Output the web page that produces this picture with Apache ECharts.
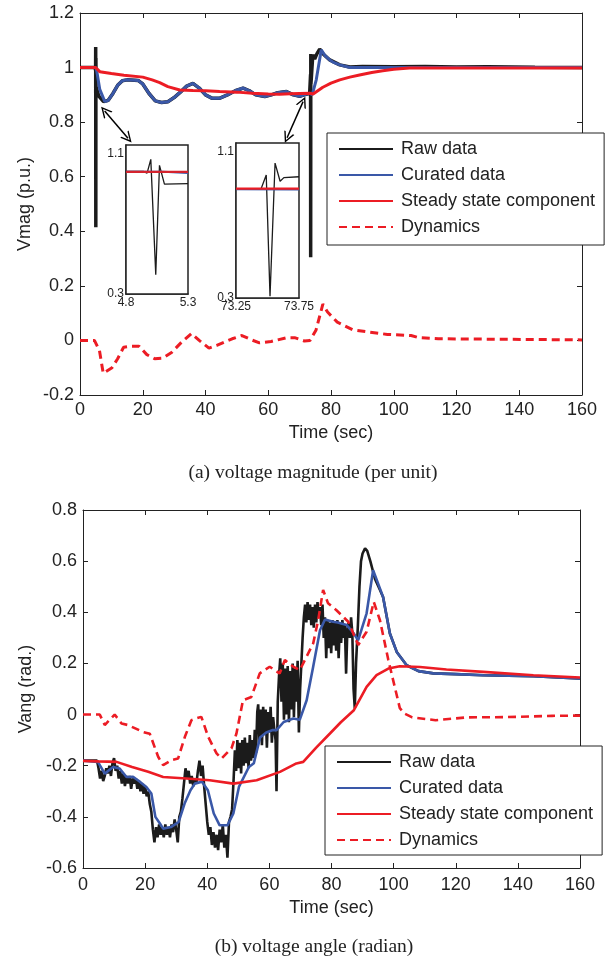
<!DOCTYPE html>
<html>
<head>
<meta charset="utf-8">
<script src="https://cdn.jsdelivr.net/npm/echarts@6/dist/echarts.min.js"></script>
<style>
html,body{margin:0;padding:0;background:#fff;}
#chart{width:609px;height:962px;}
</style>
</head>
<body>
<div id="chart"></div>
<script>
// ---------- DATA ----------
const seriesNames = ['Raw data', 'Curated data', 'Steady state component', 'Dynamics'];
const captionA = '(a) voltage magnitude (per unit)';
const captionB = '(b) voltage angle (radian)';

// (a) voltage magnitude
const vmagRaw = [[0,1.0],[4.8,1.0],[4.95,0.99],[4.98,1.0],[5.0,1.075],[5.04,0.415],[5.07,1.035],[5.11,0.93],[5.3,0.93],[6,0.895],[7.5,0.875],[9,0.88],[10.5,0.905],[12,0.935],[13.5,0.952],[15,0.955],[18.5,0.953],[20,0.94],[22,0.905],[24,0.878],[26,0.872],[28,0.875],[30,0.89],[32,0.91],[34,0.932],[36,0.942],[38,0.925],[40,0.9],[42,0.888],[44.6,0.888],[47,0.9],[49.5,0.915],[52,0.925],[54,0.915],[56,0.9],[58.9,0.894],[61,0.9],[63,0.908],[65.8,0.912],[68,0.9],[70,0.895],[71.5,0.9],[73.2,0.906],[73.45,0.9],[73.49,0.975],[73.52,0.305],[73.56,1.05],[73.6,0.94],[73.75,0.965],[74.2,1.047],[74.8,1.031],[75.5,1.05],[76.4,1.068],[77.5,1.05],[79.6,1.028],[82.8,1.01],[86,1.002],[90,1.004],[100,1.003],[110,1.004],[120,1.002],[130,1.003],[145,1.001],[160,1.0]];
const vmagCurated = [[0,1.0],[5.0,1.0],[5.3,0.99],[6.3,0.92],[7.9,0.875],[9,0.88],[10.5,0.905],[12,0.935],[13.5,0.952],[15,0.955],[18.5,0.953],[20,0.94],[22,0.905],[24,0.878],[26,0.872],[28,0.875],[30,0.89],[32,0.91],[34,0.932],[36,0.942],[38,0.925],[40,0.9],[42,0.888],[44.6,0.888],[47,0.9],[49.5,0.915],[52,0.925],[54,0.915],[56,0.9],[58.9,0.894],[61,0.9],[63,0.908],[65.8,0.912],[68,0.9],[70,0.895],[71.5,0.9],[73.2,0.906],[74,0.9],[75.3,0.955],[76.9,1.065],[78,1.045],[79.6,1.028],[81,1.018],[82.8,1.01],[86,1.0],[160,1.0]];
const vmagSteady = [[0,1.0],[5,1.0],[6.3,0.985],[10,0.978],[14,0.972],[20,0.965],[23,0.955],[25.4,0.945],[28,0.93],[31.8,0.918],[36,0.916],[40,0.915],[44.5,0.912],[50,0.91],[55,0.906],[60,0.903],[63.6,0.902],[67,0.904],[70,0.905],[73.2,0.906],[74.3,0.903],[77.4,0.928],[80,0.943],[82.8,0.955],[86,0.965],[89.1,0.973],[93,0.982],[96.5,0.988],[100,0.994],[105,0.998],[160,0.998]];
const vmagDynamics = [[0,0],[4.6,0],[6.2,-0.037],[7.4,-0.12],[10.2,-0.1],[12,-0.067],[13.9,-0.025],[16.3,-0.021],[18.8,-0.021],[21.3,-0.052],[23.8,-0.067],[26.3,-0.065],[29.3,-0.043],[32.4,-0.006],[35.5,0.025],[38,0],[41.1,-0.028],[43.6,-0.018],[48.5,0.006],[51.6,0.018],[54.7,0.002],[57.2,-0.009],[60.9,-0.004],[65.9,0.01],[68.4,0.01],[71.5,-0.002],[73.3,0],[75.2,0.037],[77.4,0.133],[78.9,0.104],[82,0.067],[86.9,0.039],[91.9,0.031],[98,0.022],[105.5,0.018],[108,0.01],[114.2,0.006],[160,0.002]];

// insets of (a)
const inset1Raw = [[4.8,1.0],[4.94,1.0],[4.97,0.99],[5.0,1.068],[5.04,0.41],[5.07,1.034],[5.11,0.927],[5.12,0.935],[5.3,0.93]];
const inset1Curated = [[4.8,0.998],[5.1,0.997],[5.3,0.99]];
const inset1Steady = [[4.8,0.997],[5.3,0.997]];
const inset1XTicks = [4.8, 5.3];
const inset2Raw = [[73.25,0.9],[73.45,0.9],[73.46,0.893],[73.49,0.975],[73.52,0.31],[73.56,1.04],[73.6,0.94],[73.63,0.96],[73.75,0.965]];
const inset2Curated = [[73.25,0.897],[73.75,0.895]];
const inset2Steady = [[73.25,0.9],[73.75,0.9]];
const inset2XTicks = [73.25, 73.75];
const insetYTicks = [0.3, 1.1];

// double arrows linking the insets to the events (data units)
const arrowA = [[7.87,0.841],[15.3,0.741]];
const arrowB = [[71.1,0.875],[66.0,0.743]];

// (b) voltage angle
const vangRaw = [[0,-0.18],[4.5,-0.18],[5,-0.21],[5.5,-0.25],[6,-0.22],[6.5,-0.26],[7,-0.24],[7.5,-0.21],[8,-0.23],[8.5,-0.2],[9,-0.24],[9.5,-0.19],[10,-0.17],[10.5,-0.22],[11,-0.2],[11.5,-0.25],[12,-0.22],[12.5,-0.27],[13,-0.23],[13.5,-0.28],[14,-0.24],[14.5,-0.27],[15,-0.24],[15.5,-0.29],[16,-0.25],[16.5,-0.27],[17,-0.25],[17.5,-0.29],[18,-0.26],[18.5,-0.3],[19,-0.27],[19.5,-0.31],[20,-0.28],[20.5,-0.32],[21,-0.3],[21.5,-0.35],[22,-0.38],[22.5,-0.45],[23,-0.5],[23.5,-0.44],[24,-0.48],[24.5,-0.43],[25,-0.47],[25.5,-0.44],[26,-0.48],[26.5,-0.43],[27,-0.47],[27.5,-0.44],[28,-0.48],[28.5,-0.43],[29,-0.46],[29.5,-0.41],[30,-0.45],[30.5,-0.5],[31,-0.4],[31.5,-0.38],[32,-0.33],[32.5,-0.27],[33,-0.21],[33.5,-0.25],[34,-0.22],[34.5,-0.27],[35,-0.24],[35.5,-0.28],[36,-0.25],[36.5,-0.27],[37,-0.22],[37.5,-0.18],[38,-0.24],[38.5,-0.2],[39,-0.28],[39.5,-0.35],[40,-0.42],[40.5,-0.47],[41,-0.44],[41.5,-0.51],[42,-0.46],[42.5,-0.52],[43,-0.47],[43.5,-0.53],[44,-0.45],[44.5,-0.5],[45,-0.43],[45.5,-0.52],[46,-0.47],[46.5,-0.56],[47,-0.42],[47.5,-0.4],[48,-0.37],[48.5,-0.25],[48.9,-0.14],[49.3,-0.22],[49.7,-0.1],[50.1,-0.21],[50.5,-0.11],[50.9,-0.23],[51.3,-0.1],[51.7,-0.2],[52.1,-0.09],[52.5,-0.19],[52.9,-0.11],[53.3,-0.21],[53.7,-0.08],[54.1,-0.18],[54.5,-0.1],[54.9,-0.17],[55.3,-0.06],[55.7,-0.15],[56.1,0.01],[56.4,0.04],[56.8,-0.1],[57.2,0.02],[57.6,-0.12],[58,0.03],[58.4,-0.08],[58.8,0.02],[59.2,-0.13],[59.6,0.01],[60,-0.07],[60.4,0.03],[60.8,-0.11],[61.2,-0.01],[61.6,-0.06],[62,-0.1],[62.3,-0.3],[62.7,0.05],[63.1,0.15],[63.5,0.22],[63.9,0.05],[64.3,0.2],[64.7,-0.02],[65.1,0.18],[65.5,0.0],[65.9,0.19],[66.3,-0.03],[66.7,0.17],[67.1,0.02],[67.5,0.2],[67.9,-0.01],[68.3,0.18],[68.7,0.05],[69.1,0.21],[69.5,-0.07],[69.9,0.1],[70.3,0.2],[70.7,0.3],[71.1,0.38],[71.5,0.43],[71.9,0.36],[72.3,0.44],[72.7,0.37],[73.1,0.43],[73.5,0.35],[73.9,0.42],[74.3,0.34],[74.7,0.43],[75.1,0.36],[75.5,0.44],[75.9,0.38],[76.3,0.42],[76.7,0.35],[77.1,0.43],[77.5,0.3],[77.9,0.38],[78.3,0.22],[78.7,0.37],[79.1,0.26],[79.5,0.36],[79.9,0.24],[80.3,0.37],[80.7,0.27],[81.1,0.36],[81.5,0.25],[81.9,0.37],[82.3,0.22],[82.7,0.36],[83.1,0.28],[83.5,0.37],[83.9,0.3],[84.3,0.35],[84.7,0.16],[85.1,0.33],[85.5,0.36],[85.9,0.3],[86.3,0.38],[86.7,0.32],[87.1,0.1],[87.5,0.024],[87.9,0.2],[88.5,0.35],[89,0.5],[89.5,0.6],[90,0.63],[90.8,0.65],[91.5,0.64],[92.5,0.6],[94,0.53],[95.5,0.49],[96.6,0.46],[98.8,0.317],[101,0.245],[104.2,0.193],[108,0.17],[112.8,0.161],[120,0.158],[128.9,0.154],[145,0.15],[159.5,0.141],[160,0.14]];
const vangCurated = [[0,-0.18],[4.8,-0.185],[7,-0.231],[9.7,-0.205],[11.8,-0.211],[14,-0.244],[16.1,-0.243],[18,-0.26],[20.4,-0.283],[22,-0.309],[23.3,-0.4],[24.7,-0.425],[25.8,-0.446],[28.3,-0.44],[30.8,-0.42],[32.7,-0.348],[34.6,-0.296],[36,-0.27],[38.3,-0.263],[40.2,-0.296],[42.1,-0.387],[44,-0.433],[46.5,-0.433],[48.4,-0.387],[50.2,-0.283],[53.4,-0.205],[55,-0.19],[57,-0.09],[59,-0.07],[60.9,-0.061],[62.3,-0.061],[64.6,-0.029],[67.7,-0.015],[69.8,-0.02],[72,0.056],[74.1,0.187],[76.3,0.33],[77.9,0.372],[80.5,0.363],[82,0.36],[84.9,0.35],[87,0.32],[88.6,0.291],[91.3,0.396],[93.4,0.565],[94,0.572],[96.6,0.46],[98.8,0.317],[101,0.245],[104.2,0.193],[108,0.17],[112.8,0.161],[120,0.158],[128.9,0.154],[145,0.15],[159.5,0.141],[160,0.14]];
const vangSteady = [[0,-0.181],[5,-0.183],[10.8,-0.185],[15.8,-0.205],[21,-0.224],[25.8,-0.244],[33.3,-0.25],[40.8,-0.257],[48.4,-0.27],[55.9,-0.257],[63.4,-0.224],[68.7,-0.191],[70.9,-0.185],[75,-0.13],[79.5,-0.074],[83,-0.03],[87.2,0.017],[91.3,0.108],[94.5,0.154],[98.3,0.18],[102,0.189],[108.5,0.186],[117,0.176],[128.9,0.167],[145,0.154],[160,0.145]];
const vangDynamics = [[0,0],[5.4,0],[7,-0.041],[10.2,0],[12.4,-0.035],[14.5,-0.041],[17,-0.055],[19.3,-0.068],[21.5,-0.075],[24.2,-0.165],[25.8,-0.198],[28.5,-0.178],[30.6,-0.172],[32.8,-0.087],[34.9,-0.022],[36.5,-0.015],[38.1,-0.009],[40.3,-0.087],[43,-0.152],[44.6,-0.172],[46.2,-0.152],[47.8,-0.132],[49.4,-0.074],[51.5,0.056],[54.2,0.069],[56.9,0.161],[60.1,0.187],[63.3,0.161],[65,0.213],[67.7,0.187],[69.8,0.174],[74.1,0.278],[75.7,0.369],[77.3,0.487],[78.9,0.435],[81.6,0.408],[85.4,0.363],[88.6,0.272],[91.3,0.324],[93.6,0.441],[95.6,0.369],[98.3,0.213],[102,0.025],[103.5,0.004],[106,-0.011],[113.5,-0.022],[123.5,-0.011],[136,-0.01],[151,-0.005],[160,-0.004]];

// ---------- STYLE ----------
const BLACK = '#1b1b1b', BLUE = '#3a58a8', RED = '#ec1c24', AX = '#222';
const FONT = 'Liberation Sans, Arial, sans-serif';
const chevron = 'path://M0,10 L5,0 L10,10 L8.6,10 L5,2.8 L1.4,10 Z';

function mainX(grid, pos, opts) {
  const a = {
    type: 'value', gridIndex: grid, position: pos, min: 0, max: 160, interval: 20,
    axisLine: { show: true, onZero: false, lineStyle: { color: AX, width: 1 } },
    axisTick: { show: true, inside: true, length: 5, lineStyle: { color: AX } },
    axisLabel: { show: pos === 'bottom', fontSize: 18, fontFamily: FONT, color: AX, margin: opts.margin },
    splitLine: { show: false }
  };
  if (pos === 'bottom') {
    a.name = 'Time (sec)'; a.nameLocation = 'middle'; a.nameGap = opts.nameGap;
    a.nameMoveOverlap = false;
    a.nameTextStyle = { fontSize: 18, fontFamily: FONT, color: AX };
  }
  return a;
}
function mainY(grid, pos, min, max, name, nameGap) {
  const a = {
    type: 'value', gridIndex: grid, position: pos, min: min, max: max, interval: 0.2,
    axisLine: { show: true, onZero: false, lineStyle: { color: AX, width: 1 } },
    axisTick: { show: true, inside: true, length: 5, lineStyle: { color: AX } },
    axisLabel: { show: pos === 'left', fontSize: 18, fontFamily: FONT, color: AX, margin: 6 },
    splitLine: { show: false }
  };
  if (pos === 'left') {
    a.name = name; a.nameLocation = 'middle'; a.nameGap = nameGap;
    a.nameMoveOverlap = false;
    a.nameTextStyle = { fontSize: 18, fontFamily: FONT, color: AX };
  }
  return a;
}
function insetX(grid, min, max, ticks) {
  return {
    type: 'value', gridIndex: grid, min: min, max: max, position: 'bottom',
    axisLine: { show: true, onZero: false, lineStyle: { color: AX, width: 1.5 } },
    axisTick: { show: false },
    axisLabel: { show: true, customValues: ticks, fontSize: 12, fontFamily: FONT, color: AX, margin: 3 },
    splitLine: { show: false }
  };
}
function insetY(grid) {
  return {
    type: 'value', gridIndex: grid, min: 0.3, max: 1.15, position: 'left',
    axisLine: { show: true, onZero: false, lineStyle: { color: AX, width: 1.5 } },
    axisTick: { show: true, inside: true, length: 4, customValues: insetYTicks, lineStyle: { color: AX } },
    axisLabel: { show: true, customValues: insetYTicks, fontSize: 12, fontFamily: FONT, color: AX, margin: 2 },
    splitLine: { show: false }
  };
}
function line(name, data, xi, yi, color, width, dashed, z) {
  return {
    name: name, type: 'line', xAxisIndex: xi, yAxisIndex: yi, data: data,
    symbol: 'none', showSymbol: false, z: z, silent: true,
    lineStyle: { color: color, width: width, type: dashed ? [8, 5] : 'solid' },
    itemStyle: { color: color }
  };
}
function legendAt(left, top, bottomPad) {
  return {
    left: left, top: top, orient: 'vertical', data: seriesNames, selectedMode: false,
    itemWidth: 54, itemHeight: 14, itemGap: 8, padding: [7, 9, bottomPad, 11],
    borderColor: AX, borderWidth: 1, backgroundColor: '#fff', borderRadius: 0,
    itemStyle: { opacity: 0, borderWidth: 0 },
    textStyle: { fontSize: 18, fontFamily: FONT, color: AX, lineHeight: 18, padding: [0, 0, 0, 3] }
  };
}

const rawTop = line(seriesNames[0], vmagRaw, 0, 0, BLACK, 3.5, false, 2);
rawTop.markLine = {
  silent: true, symbol: [chevron, chevron], symbolSize: [11, 11],
  label: { show: false }, lineStyle: { color: '#000', width: 1.5, type: 'solid' },
  emphasis: { disabled: true },
  data: [
    [{ coord: arrowA[0] }, { coord: arrowA[1] }],
    [{ coord: arrowB[0] }, { coord: arrowB[1] }]
  ]
};

const option = {
  animation: false,
  backgroundColor: '#fff',
  grid: [
    { left: 80, top: 13, width: 502, height: 382 },
    { left: 126, top: 145, width: 62, height: 149, show: true, borderColor: AX, borderWidth: 1.5, backgroundColor: '#fff', z: 3 },
    { left: 236, top: 143, width: 63, height: 155, show: true, borderColor: AX, borderWidth: 1.5, backgroundColor: '#fff', z: 3 },
    { left: 83, top: 510, width: 497, height: 358 }
  ],
  xAxis: [
    mainX(0, 'bottom', { margin: 6, nameGap: 29 }),
    mainX(0, 'top', {}),
    insetX(1, 4.8, 5.3, inset1XTicks),
    insetX(2, 73.25, 73.75, inset2XTicks),
    mainX(3, 'bottom', { margin: 8, nameGap: 31 }),
    mainX(3, 'top', {})
  ],
  yAxis: [
    mainY(0, 'left', -0.2, 1.2, 'Vmag (p.u.)', 46),
    mainY(0, 'right', -0.2, 1.2),
    insetY(1),
    insetY(2),
    mainY(3, 'left', -0.6, 0.8, 'Vang (rad.)', 48),
    mainY(3, 'right', -0.6, 0.8)
  ],
  legend: [legendAt(327, 133, 9), legendAt(325, 746, 6)],
  graphic: [
    { type: 'text', x: 313, y: 473, style: { text: captionA, textAlign: 'center', textVerticalAlign: 'middle', font: '19.5px "Liberation Serif", "Times New Roman", serif', fill: '#222' } },
    { type: 'text', x: 314, y: 947, style: { text: captionB, textAlign: 'center', textVerticalAlign: 'middle', font: '19.5px "Liberation Serif", "Times New Roman", serif', fill: '#222' } }
  ],
  series: [
    rawTop,
    line(seriesNames[1], vmagCurated, 0, 0, BLUE, 3, false, 3),
    line(seriesNames[2], vmagSteady, 0, 0, RED, 3, false, 4),
    line(seriesNames[3], vmagDynamics, 0, 0, RED, 3, true, 5),

    line('inset1 raw', inset1Raw, 2, 2, BLACK, 1.3, false, 6),
    line('inset1 curated', inset1Curated, 2, 2, BLUE, 2, false, 7),
    line('inset1 steady', inset1Steady, 2, 2, '#d4232e', 2.2, false, 8),
    line('inset2 raw', inset2Raw, 3, 3, BLACK, 1.3, false, 6),
    line('inset2 curated', inset2Curated, 3, 3, BLUE, 2, false, 7),
    line('inset2 steady', inset2Steady, 3, 3, RED, 2.2, false, 8),

    line(seriesNames[0], vangRaw, 4, 4, BLACK, 2.6, false, 2),
    line(seriesNames[1], vangCurated, 4, 4, BLUE, 2.6, false, 3),
    line(seriesNames[2], vangSteady, 4, 4, RED, 2.6, false, 4),
    line(seriesNames[3], vangDynamics, 4, 4, RED, 2.6, true, 5)
  ]
};

const chart = echarts.init(document.getElementById('chart'), null, { renderer: 'canvas' });
chart.setOption(option);
</script>
</body>
</html>
